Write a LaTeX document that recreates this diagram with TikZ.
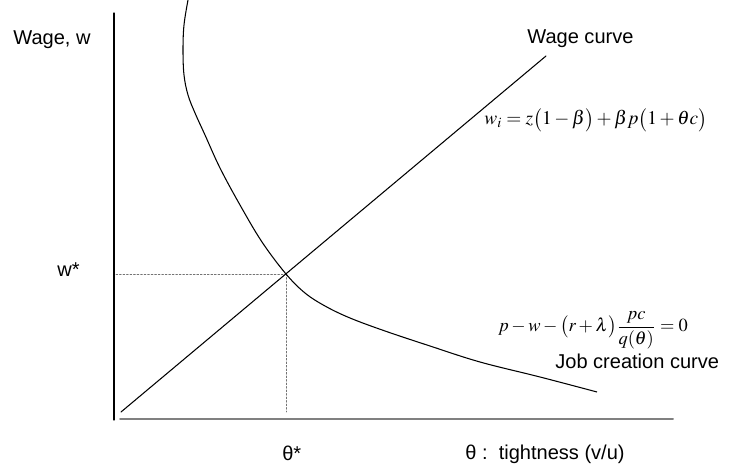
\documentclass[tikz,border=0pt]{standalone}
\usepackage{mathptmx}
\usepackage{fontspec}
\setmainfont{Liberation Sans}
\usepackage{tkz-euclide}
\usetikzlibrary{calc}
\definecolor{AxisClr}{gray}{0.5}
\definecolor{GuideClr}{gray}{0.45}

\tikzset{
  lbl/.style={font=\fontsize{11.4}{13}\selectfont,anchor=base west,inner sep=0pt},
  eqn/.style={font=\fontsize{11}{13}\selectfont,inner sep=0pt},
  guide/.style={GuideClr,line width=0.4pt,dash pattern=on 1pt off 1pt}
}

\begin{document}
\begin{tikzpicture}
\useasboundingbox (0,0) rectangle (14.62,9.36);
\tkzSetUpLine[line width=0.6pt,color=black]

\tkzDefPoints{2.28/9.10/yt,2.28/0.96/yb,2.40/0.98/xl,13.46/0.98/xr}
\tkzDefPoints{2.42/1.12/W0,10.92/8.24/W1,5.72/3.88/E,2.32/3.88/Ew,5.72/1.12/Es}
% job creation curve
\tkzDefPoints{3.76/9.36/j1,3.68/8.86/j2,3.66/8.36/j3,3.68/7.86/j4,3.76/7.46/j5,
  3.90/7.10/j6,4.10/6.66/j7,4.40/6.00/j8,4.80/5.26/j9,5.24/4.52/j10}
\tkzDefPoints{6.10/3.50/k1,6.50/3.24/k2,7.00/3.00/k3,7.70/2.74/k4,8.60/2.44/k5,
  9.60/2.12/k6,10.80/1.82/k7,11.94/1.52/k8}

\tkzDrawSegment[line width=0.6pt](yt,yb)
\tkzDrawSegment[AxisClr,line width=1.1pt](xl,xr)
\tkzDrawSegments[guide](Ew,E E,Es)
\tkzDrawSegment[line width=0.6pt](W0,W1)
\draw[line width=0.6pt] plot[smooth,tension=0.6] coordinates
  {(j1) (j2) (j3) (j4) (j5) (j6) (j7) (j8) (j9) (j10) (E)
   (k1) (k2) (k3) (k4) (k5) (k6) (k7) (k8)};

\node[lbl] (ylab) at (0.26,8.46) {Wage, w};
\node[lbl] (wstar) at (1.14,3.82) {w*};
\node[lbl] (wagecurve) at (10.54,8.48) {Wage curve};
\node[lbl] (thstar) at (5.64,0.14) {θ*};
\node[lbl] (xlab) at (9.30,0.16) {θ :\ \ tightness (v/u)};
\node[lbl] (jobcurve) at (11.10,1.98) {Job creation curve};

\node[eqn,anchor=west] (wageeq) at (9.68,6.96)
  {$w_i = z\bigl(1-\beta\bigr)+\beta p\bigl(1+\theta c\bigr)$};
\node[eqn,font=\fontsize{10.5}{12}\selectfont] (jobeq) at (11.86,2.76)
  {$p-w-\bigl(r+\lambda\bigr)\displaystyle\frac{pc}{q(\theta)}=0$};

\end{tikzpicture}
\end{document}
